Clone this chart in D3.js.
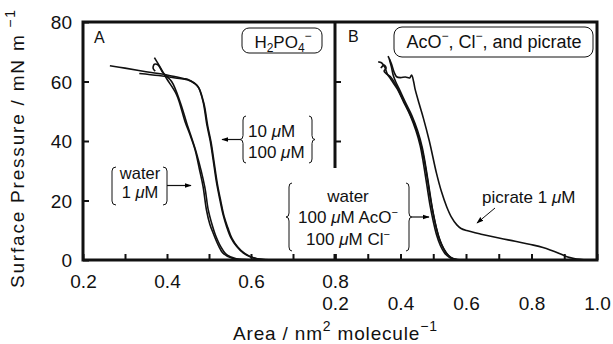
<!DOCTYPE html>
<html>
<head>
<meta charset="utf-8">
<script src="https://cdn.jsdelivr.net/npm/d3@7"></script>
<style>
  html, body { margin: 0; padding: 0; background: #fff; }
  svg { display: block; font-family: "Liberation Sans", Arial, Helvetica, sans-serif; }
</style>
</head>
<body>
<svg id="chart" width="613" height="344"></svg>
<script>
// ---------- data ----------
const yTicks = [0, 20, 40, 60, 80];
const xTicksA = [0.2, 0.3, 0.4, 0.5, 0.6, 0.7, 0.8];
const xTicksB = [0.2, 0.3, 0.4, 0.5, 0.6, 0.7, 0.8, 0.9, 1.0];

// Panel A : H2PO4-  [area, pressure]
const A_water = [[0.370,68.0],[0.385,64.5],[0.399,61.0],[0.423,55.5],[0.443,46.5],[0.455,42.0],[0.467,37.0],[0.478,30.0],[0.486,24.6],[0.494,16.8],[0.502,12.0],[0.510,9.0],[0.522,5.0],[0.534,2.2],[0.557,0.5],[0.600,0.1],[0.700,0]];
const A_1uM = [[0.372,63.5],[0.367,64.4],[0.370,65.8],[0.379,65.5],[0.390,63.0],[0.411,60.0],[0.431,53.2],[0.447,46.0],[0.470,36.0],[0.490,24.5],[0.498,17.0],[0.507,12.0],[0.515,8.5],[0.528,4.5],[0.542,1.8],[0.565,0.4],[0.620,0.05],[0.700,0]];
const A_10uM = [[0.264,65.3],[0.300,64.5],[0.350,63.3],[0.400,62.2],[0.439,61.0],[0.450,60.7],[0.465,59.5],[0.474,58.3],[0.486,53.2],[0.495,45.4],[0.503,40.0],[0.510,33.6],[0.518,26.0],[0.526,20.2],[0.534,15.0],[0.542,11.2],[0.552,7.5],[0.566,4.5],[0.582,2.3],[0.598,1.1],[0.620,0.2],[0.650,0],[0.750,0]];
const A_100uM = [[0.334,62.7],[0.380,62.0],[0.420,61.2],[0.450,60.5],[0.466,59.3],[0.476,57.8],[0.488,52.5],[0.497,45.0],[0.505,39.5],[0.512,33.0],[0.520,25.5],[0.528,19.8],[0.536,14.6],[0.545,10.8],[0.555,7.2],[0.569,4.3],[0.585,2.2],[0.601,1.0],[0.625,0.2],[0.660,0],[0.750,0]];

// Panel B : AcO-, Cl-, picrate
const B_water = [[0.332,66.6],[0.342,66.3],[0.352,64.8],[0.360,62.5],[0.372,60.5],[0.390,57.5],[0.410,53.0],[0.430,48.5],[0.447,43.5],[0.460,38.5],[0.470,32.5],[0.480,25.5],[0.490,18.5],[0.500,13.0],[0.510,8.5],[0.522,4.8],[0.535,2.3],[0.550,0.8],[0.565,0.2],[0.600,0],[0.700,0]];
const B_AcO = [[0.340,64.5],[0.350,65.5],[0.356,64.5],[0.350,63.5],[0.358,62.5],[0.370,61.5],[0.385,59.0],[0.405,54.5],[0.425,50.0],[0.443,45.5],[0.458,40.5],[0.470,35.0],[0.481,28.0],[0.491,21.0],[0.500,15.5],[0.510,10.5],[0.520,6.8],[0.532,3.8],[0.546,1.6],[0.562,0.4],[0.580,0],[0.700,0]];
const B_Cl = [[0.366,67.5],[0.372,65.0],[0.378,62.0],[0.385,60.0],[0.398,57.0],[0.415,53.0],[0.435,48.5],[0.452,43.5],[0.466,38.0],[0.477,31.5],[0.487,24.5],[0.497,17.5],[0.506,12.5],[0.516,8.0],[0.527,4.8],[0.540,2.3],[0.556,0.7],[0.575,0.1],[0.600,0],[0.700,0]];
const B_picrate = [[0.362,68.5],[0.372,66.0],[0.381,63.0],[0.388,61.6],[0.400,61.3],[0.415,61.5],[0.428,61.2],[0.434,62.2],[0.440,60.0],[0.444,57.7],[0.457,52.5],[0.470,47.6],[0.488,40.0],[0.510,29.1],[0.525,23.0],[0.541,17.9],[0.555,14.5],[0.572,11.8],[0.585,10.6],[0.602,9.9],[0.650,8.6],[0.704,7.3],[0.750,6.3],[0.806,5.0],[0.835,4.2],[0.857,3.4],[0.885,2.2],[0.908,1.1],[0.930,0.5],[0.948,0.2],[0.970,0],[1.000,0]];

const seriesA = [A_water, A_1uM, A_10uM, A_100uM];
const seriesB = [B_water, B_AcO, B_Cl, B_picrate];

// ---------- layout ----------
const svg = d3.select("#chart");
const pL = 83, pM = 335, pR = 597, pT = 22, pB = 260;
const xA = d3.scaleLinear().domain([0.2, 0.8]).range([pL, pM]);
const xB = d3.scaleLinear().domain([0.2, 1.0]).range([pM, pR]);
const y = d3.scaleLinear().domain([0, 80]).range([pB, pT]);

const defs = svg.append("defs");
defs.append("clipPath").attr("id", "clipA").append("rect")
  .attr("x", pL).attr("y", pT).attr("width", pM - pL).attr("height", pB - pT);
defs.append("clipPath").attr("id", "clipB").append("rect")
  .attr("x", pM).attr("y", pT).attr("width", pR - pM).attr("height", pB - pT);
defs.append("marker").attr("id", "ah").attr("viewBox", "0 0 10 10")
  .attr("refX", 9).attr("refY", 5).attr("markerWidth", 7).attr("markerHeight", 7)
  .attr("markerUnits", "userSpaceOnUse").attr("orient", "auto")
  .append("path").attr("d", "M0,1.5 L10,5 L0,8.5 Z").attr("fill", "#000");

const lineA = d3.line().x(d => xA(d[0])).y(d => y(d[1])).curve(d3.curveCatmullRom.alpha(0.5));
const lineB = d3.line().x(d => xB(d[0])).y(d => y(d[1])).curve(d3.curveCatmullRom.alpha(0.5));

svg.append("g").attr("clip-path", "url(#clipA)").selectAll("path").data(seriesA).join("path")
  .attr("d", lineA).attr("fill", "none").attr("stroke", "#111").attr("stroke-width", 1.6);
svg.append("g").attr("clip-path", "url(#clipB)").selectAll("path").data(seriesB).join("path")
  .attr("d", lineB).attr("fill", "none").attr("stroke", "#111").attr("stroke-width", 1.6);

// ---------- axes ----------
const fmt = d3.format(".1f");
const isLabel = d => Math.round(d * 10) % 2 === 0;

const gxA = svg.append("g").attr("transform", `translate(0,${pB})`)
  .call(d3.axisBottom(xA).tickValues(xTicksA).tickSize(-6).tickFormat(d => isLabel(d) ? fmt(d) : ""));
gxA.selectAll("text").attr("y", 28).attr("dy", null);

const gxB = svg.append("g").attr("transform", `translate(0,${pB})`)
  .call(d3.axisBottom(xB).tickValues(xTicksB).tickSize(-6).tickFormat(d => isLabel(d) ? fmt(d) : ""));
gxB.selectAll("text").attr("y", 50).attr("dy", null);

const gy = svg.append("g").attr("transform", `translate(${pL},0)`)
  .call(d3.axisLeft(y).tickValues(yTicks).tickSize(-6));
gy.selectAll("text").attr("x", -11).attr("dy", "0.36em");

const gyB = svg.append("g").attr("transform", `translate(${pM},0)`)
  .call(d3.axisLeft(y).tickValues([20, 40, 60]).tickSize(-6).tickFormat(""));

[gxA, gxB, gy, gyB].forEach(g => {
  g.select(".domain").remove();
  g.selectAll("line").attr("stroke", "#111").attr("stroke-width", 2);
  g.selectAll("text").attr("fill", "#111").style("font-size", "19px")
   .style("font-family", "'Liberation Sans', Arial, sans-serif");
});

// frame
svg.append("rect").attr("x", pL).attr("y", pT).attr("width", pR - pL).attr("height", pB - pT)
  .attr("fill", "none").attr("stroke", "#111").attr("stroke-width", 3);
svg.append("line").attr("x1", pM).attr("x2", pM).attr("y1", pT).attr("y2", pB)
  .attr("stroke", "#111").attr("stroke-width", 3);

// axis titles
const yt = svg.append("text").attr("transform", "translate(24,288) rotate(-90)")
  .attr("font-size", 19).attr("fill", "#111").attr("textLength", 278).attr("lengthAdjust", "spacing");
yt.append("tspan").text("Surface Pressure / mN m");
yt.append("tspan").attr("font-size", 14).attr("dy", -9).text(" \u22121");

const xt = svg.append("text").attr("x", 233).attr("y", 340)
  .attr("font-size", 19).attr("fill", "#111").attr("textLength", 204).attr("lengthAdjust", "spacing");
xt.append("tspan").text("Area / nm");
xt.append("tspan").attr("font-size", 14).attr("dy", -9).text("2");
xt.append("tspan").attr("dy", 9).text(" molecule");
xt.append("tspan").attr("font-size", 14).attr("dy", -9).text("\u22121");

// ---------- annotations ----------
svg.append("text").attr("x", 94).attr("y", 43).attr("font-size", 16).attr("fill", "#111").text("A");
svg.append("text").attr("x", 348).attr("y", 42).attr("font-size", 16).attr("fill", "#111").text("B");

// boxes
svg.append("rect").attr("x", 242).attr("y", 28).attr("width", 80).attr("height", 25).attr("rx", 7)
  .attr("fill", "#fff").attr("stroke", "#111").attr("stroke-width", 1);
const h = svg.append("text").attr("x", 283).attr("y", 48).attr("text-anchor", "middle")
  .attr("font-size", 17).attr("fill", "#111");
h.append("tspan").text("H");
h.append("tspan").attr("font-size", 12).attr("dy", 4).text("2");
h.append("tspan").attr("dy", -4).text("PO");
h.append("tspan").attr("font-size", 12).attr("dy", 4).text("4");
h.append("tspan").attr("font-size", 12).attr("dy", -12).text("\u2212");

svg.append("rect").attr("x", 394).attr("y", 27).attr("width", 199).attr("height", 30).attr("rx", 8)
  .attr("fill", "#fff").attr("stroke", "#111").attr("stroke-width", 1);
const bt = svg.append("text").attr("x", 494).attr("y", 48).attr("text-anchor", "middle")
  .attr("font-size", 18).attr("fill", "#111");
bt.append("tspan").text("AcO");
bt.append("tspan").attr("font-size", 12).attr("dy", -8).text("\u2212");
bt.append("tspan").attr("dy", 8).text(", Cl");
bt.append("tspan").attr("font-size", 12).attr("dy", -8).text("\u2212");
bt.append("tspan").attr("dy", 8).text(", and picrate");

// helpers
function braceL(x, y1, y2, w) { // "{" tip at x
  const ym = (y1 + y2) / 2, xm = x + w / 2, r = 4;
  return `M${x + w},${y1} Q${xm},${y1} ${xm},${y1 + r} L${xm},${ym - r} Q${xm},${ym} ${x},${ym} Q${xm},${ym} ${xm},${ym + r} L${xm},${y2 - r} Q${xm},${y2} ${x + w},${y2}`;
}
function braceR(x, y1, y2, w) { // "}" tip at x
  const ym = (y1 + y2) / 2, xm = x - w / 2, r = 4;
  return `M${x - w},${y1} Q${xm},${y1} ${xm},${y1 + r} L${xm},${ym - r} Q${xm},${ym} ${x},${ym} Q${xm},${ym} ${xm},${ym + r} L${xm},${y2 - r} Q${xm},${y2} ${x - w},${y2}`;
}
function bracketL(x, y1, y2) { return `M${x + 4},${y1} Q${x},${y1} ${x},${y1 + 4} L${x},${y2 - 4} Q${x},${y2} ${x + 4},${y2}`; }
function bracketR(x, y1, y2) { return `M${x - 4},${y1} Q${x},${y1} ${x},${y1 + 4} L${x},${y2 - 4} Q${x},${y2} ${x - 4},${y2}`; }

const stroke = g => g.attr("fill", "none").attr("stroke", "#111").attr("stroke-width", 1);

function muText(x, yb, pre, post, anchor, fs) {
  const t = svg.append("text").attr("x", x).attr("y", yb).attr("font-size", fs || 17).attr("fill", "#111")
    .attr("text-anchor", anchor || "start");
  t.append("tspan").text(pre);
  t.append("tspan").attr("font-style", "italic").text("\u03bc");
  t.append("tspan").text(post);
  return t;
}

// 10 uM / 100 uM
svg.append("path").attr("d", braceL(240, 116, 163, 6)).call(stroke);
svg.append("path").attr("d", braceR(315, 116, 163, 6)).call(stroke);
svg.append("line").attr("x1", 240).attr("y1", 139.5).attr("x2", 222).attr("y2", 139.5)
  .attr("stroke", "#111").attr("stroke-width", 1.2).attr("marker-end", "url(#ah)");
muText(248, 137, "10 ", "M");
muText(248, 158, "100 ", "M");

// water / 1 uM
svg.append("path").attr("d", bracketL(112, 167, 205)).call(stroke);
svg.append("path").attr("d", bracketR(167, 167, 205)).call(stroke);
svg.append("line").attr("x1", 167).attr("y1", 185.5).attr("x2", 191).attr("y2", 185.5)
  .attr("stroke", "#111").attr("stroke-width", 1.2).attr("marker-end", "url(#ah)");
svg.append("text").attr("x", 140).attr("y", 178.5).attr("text-anchor", "middle").attr("font-size", 16.5)
  .attr("fill", "#111").text("water");
muText(140, 198, "1 ", "M", "middle", 16.5);

// panel B annotation (white background hides the axis line)
svg.append("rect").attr("x", 283).attr("y", 168).attr("width", 130).attr("height", 86).attr("fill", "#fff");
svg.append("path").attr("d", braceL(286, 183, 251, 6)).call(stroke);
svg.append("path").attr("d", braceR(412, 183, 251, 6)).call(stroke);
svg.append("line").attr("x1", 412).attr("y1", 217).attr("x2", 429).attr("y2", 217)
  .attr("stroke", "#111").attr("stroke-width", 1.2).attr("marker-end", "url(#ah)");
svg.append("text").attr("x", 348).attr("y", 202).attr("text-anchor", "middle").attr("font-size", 17)
  .attr("fill", "#111").text("water");
const t2 = muText(348, 223, "100 ", "M AcO", "middle");
t2.append("tspan").attr("font-size", 11).attr("dy", -7).text("\u2212");
const t3 = muText(348, 245, "100 ", "M Cl", "middle");
t3.append("tspan").attr("font-size", 11).attr("dy", -7).text("\u2212");

// picrate label
muText(482, 203, "picrate 1 ", "M");
svg.append("line").attr("x1", 495).attr("y1", 208).attr("x2", 477).attr("y2", 223)
  .attr("stroke", "#111").attr("stroke-width", 1).attr("marker-end", "url(#ah)");
</script>
</body>
</html>
